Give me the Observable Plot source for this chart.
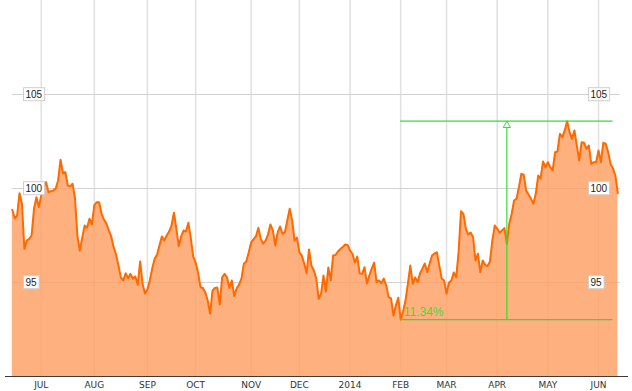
<!DOCTYPE html>
<html><head><meta charset="utf-8">
<script src="https://cdn.jsdelivr.net/npm/d3@7"></script>
<script src="https://cdn.jsdelivr.net/npm/@observablehq/plot@0.6"></script>
<style>html,body{margin:0;padding:0;background:#fff}#chart svg{display:block}</style>
</head><body><div id="chart"></div>
<script>
// Daily closes, one per trading session (session 0 = 13 Jun 2013)
const values = [
98.87,98.42,98.56,99.75,99.19,96.79,97.23,97.32,97.50,98.92,
99.54,99.01,99.63,100.07,100.34,99.80,99.86,99.89,100.00,100.43,
101.53,100.81,100.87,100.16,100.11,100.25,99.47,97.45,96.70,97.39,
98.03,97.91,98.39,98.09,99.10,99.27,99.27,98.65,98.35,98.14,
97.77,97.45,96.88,96.49,95.90,95.27,95.11,95.49,95.23,95.46,
95.20,95.32,94.88,96.12,94.93,94.41,94.63,95.11,95.74,96.26,
96.47,96.97,97.45,97.23,97.50,97.71,98.03,98.71,97.87,96.93,
97.45,97.77,97.71,98.18,97.34,96.38,96.06,95.53,94.75,94.71,
94.47,94.04,93.34,94.57,94.71,94.73,93.83,95.27,95.46,95.28,
94.71,95.11,94.28,94.68,94.89,95.21,96.00,96.12,96.60,97.13,
97.29,97.45,97.91,97.32,97.07,97.23,97.55,98.09,97.77,96.97,
97.66,97.98,97.59,97.68,98.30,98.92,98.30,97.23,97.39,96.60,
96.44,96.01,95.49,96.76,95.90,95.64,95.21,94.13,94.41,95.37,
94.52,95.80,95.11,96.44,96.46,96.65,96.78,96.89,97.02,97.00,
96.70,96.53,96.06,96.38,95.48,95.46,95.81,94.95,95.37,95.74,
96.06,95.02,95.11,94.96,95.21,94.84,94.22,94.15,93.24,93.78,
94.19,93.03,93.46,94.04,94.95,95.90,94.93,95.27,95.02,95.48,
95.74,96.01,95.55,96.01,96.44,96.54,96.61,95.90,95.21,95.11,
94.40,95.00,95.11,95.53,95.27,96.60,98.79,98.65,97.87,97.55,
97.66,97.41,96.17,96.53,95.55,96.17,95.94,95.87,96.12,97.23,
98.03,97.86,97.64,97.77,97.89,97.06,98.12,98.65,99.36,99.45,
100.07,100.78,100.73,99.89,99.68,99.45,99.19,99.72,100.69,100.52,
101.44,101.13,101.40,101.13,100.96,101.93,101.97,102.91,102.73,103.09,
103.58,103.00,102.64,103.09,102.29,101.49,102.46,102.43,102.11,102.29,
101.31,101.40,101.40,102.02,101.40,102.43,102.38,101.93,101.31,101.06,
100.69,99.75
];
// First session of each month
const monthTicks = [12,34,56,76,99,119,140,161,180,201,222,243];
const monthLabels = ["JUL","AUG","SEP","OCT","NOV","DEC","2014","FEB","MAR","APR","MAY","JUN"];
const gridValues = [95,100,105];
// Annotation: measured from the low to the high
const measureSession = 205;   // 7 Apr 2014
const measureEndSession = 249;
const changeLabel = "11.34%";

const data = values.map((v, i) => ({session: i, value: v}));
const lowSession = d3.minIndex(values);
const highSession = d3.maxIndex(values);
const lo = values[lowSession], hi = values[highSession];
const green = "#33dd33";

const chart = Plot.plot({
  width: 632, height: 391,
  marginLeft: 5, marginRight: 4, marginTop: 0, marginBottom: 15,
  x: {domain: [-2.82, 255.43], axis: null},
  y: {domain: [90, 110], axis: null},
  style: {background: "white", overflow: "visible"},
  marks: [
    Plot.ruleX(monthTicks, {x: d => d, stroke: "#e2e2e2", strokeWidth: 1.6}),
    Plot.ruleY(gridValues, {y: d => d, x1: 0, x2: values.length, stroke: "#d2d2d2"}),
    Plot.areaY(data, {x: "session", y1: 90, y2: "value", fill: "#ff9f63", fillOpacity: 0.82}),
    Plot.lineY(data, {x: "session", y: "value", stroke: "#ff6a00", strokeWidth: 2}),
    Plot.ruleY([90], {stroke: "#3a3a3a"}),
    Plot.ruleY([lo, hi], {y: d => d, x1: lowSession, x2: measureEndSession, stroke: green, strokeWidth: 1.2}),
    Plot.ruleX([measureSession], {x: d => d, y1: lo, y2: hi, stroke: green, strokeWidth: 1.2}),
    Plot.dot([measureSession], {x: d => d, y: () => hi, symbol: "triangle", r: 2.7, dy: 4.2, stroke: green, fill: "white", strokeWidth: 1}),
    Plot.text([changeLabel], {x: () => lowSession, y: () => lo, text: d => d, textAnchor: "start", lineAnchor: "bottom", dx: 3, dy: -4, fill: "#4cd640", fontSize: 12, fontFamily: "Liberation Sans", letterSpacing: 0.5}),
    Plot.text(monthTicks, {x: d => d, y: () => 90, text: (d, i) => monthLabels[i], lineAnchor: "top", dy: 5.5, fontSize: 9, fontFamily: "DejaVu Sans", fill: "#333"}),
    Plot.text(gridValues, {y: d => d, frameAnchor: "left", dx: 20, text: d => String(d), textAnchor: "start", fontSize: 10, fontFamily: "Liberation Sans", fill: "#222"}),
    Plot.text(gridValues, {y: d => d, frameAnchor: "right", dx: -38, text: d => String(d), textAnchor: "start", fontSize: 10, fontFamily: "Liberation Sans", fill: "#222"})
  ]
});
document.getElementById("chart").appendChild(chart);

// white boxes behind the value labels
const labelSet = new Set(gridValues.map(String));
d3.select(chart).selectAll("text").each(function() {
  if (!labelSet.has(this.textContent)) return;
  const b = this.getBBox();
  const t = this.getAttribute("transform");
  const r = document.createElementNS("http://www.w3.org/2000/svg", "rect");
  r.setAttribute("x", b.x - 2);
  r.setAttribute("y", b.y - 1);
  r.setAttribute("width", b.width + 4);
  r.setAttribute("height", b.height + 2);
  if (t) r.setAttribute("transform", t);
  r.setAttribute("fill", "white");
  r.setAttribute("stroke", "#cfcfcf");
  r.setAttribute("stroke-width", "1");
  this.parentNode.insertBefore(r, this);
});
</script>
</body></html>
